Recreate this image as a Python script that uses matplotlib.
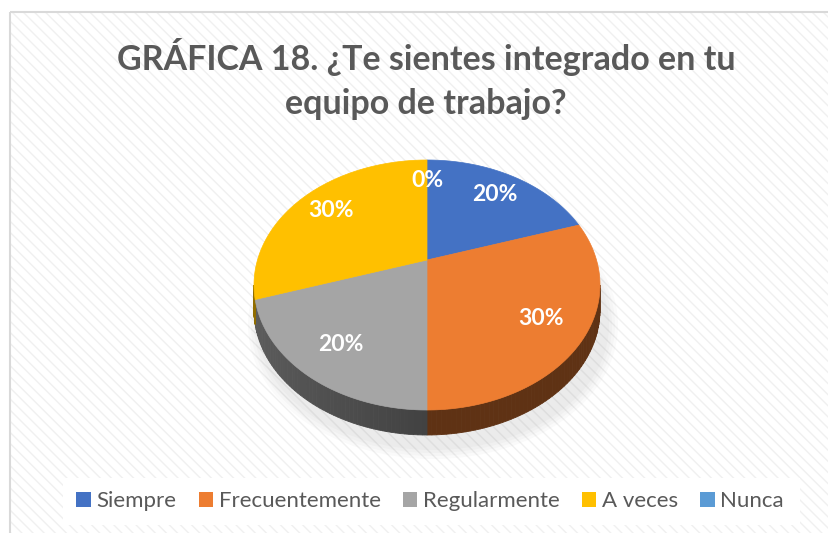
import numpy as np
import matplotlib.pyplot as plt
from matplotlib.patches import Polygon, Rectangle, Patch, Ellipse

# datos de la gráfica
categorias = ['Siempre', 'Frecuentemente', 'Regularmente', 'A veces', 'Nunca']
valores = [20, 30, 20, 30, 0]
colores = ['#4472C4', '#ED7D31', '#A5A5A5', '#FFC000', '#5B9BD5']
titulo = 'GRÁFICA 18. ¿Te sientes integrado en tu\nequipo de trabajo?'

W, H = 829, 533
fig = plt.figure(figsize=(W / 100, H / 100), dpi=100)
ax = fig.add_axes([0, 0, 1, 1])
ax.set_xlim(0, W)
ax.set_ylim(H, 0)
ax.axis('off')

# fondo con rayado diagonal y marco gris
ax.add_patch(Rectangle((0, 0), W, H, facecolor='white', edgecolor='none', zorder=0))
ax.add_patch(Rectangle((10, 12), W, H, facecolor='white', edgecolor='#f0f0f0',
                       hatch='\\\\\\', linewidth=0, zorder=1))
ax.add_patch(Rectangle((10, 12), W, H, facecolor='none', edgecolor='#d9d9d9',
                       linewidth=1.5, zorder=2))

# pastel 3D: proyección en perspectiva de un círculo
cx, cy = 427, 260      # centro proyectado
a, b, k = 169.5, 120, 0.2
prof = 25              # grosor del pastel


def proyectar(theta, r=1.0, dz=0.0):
    u = r * np.cos(theta)
    v = r * np.sin(theta)
    d = 1 + k * v
    return cx + a * u / d, cy - b * v / d + dz


total = float(sum(valores))
angulos = [np.pi / 2]
for v in valores:
    angulos.append(angulos[-1] - 2 * np.pi * v / total)

# sombra suave
for i in range(4):
    ax.add_patch(Ellipse((cx + 6, cy + 40 + prof), 2 * 176 + 6 * i, 250 + 6 * i,
                         facecolor='#808080', alpha=0.04, edgecolor='none', zorder=3))

# lado visible del pastel (frente)
lim_izq = np.pi + np.arcsin(k)
lim_der = 2 * np.pi - np.arcsin(k)
for i, col in enumerate(colores):
    t0, t1 = angulos[i + 1], angulos[i]
    for off in (0, 2 * np.pi, -2 * np.pi):
        s0, s1 = max(t0 + off, lim_izq), min(t1 + off, lim_der)
        if s1 <= s0:
            continue
        ts = np.linspace(s0, s1, 60)
        rgb = np.array(plt.matplotlib.colors.to_rgb(col))
        for j in range(len(ts) - 1):
            tm = 0.5 * (ts[j] + ts[j + 1])
            f = 0.4 + 0.17 * max(0.0, -np.cos(tm))
            p1 = proyectar(ts[j]); p2 = proyectar(ts[j + 1])
            q2 = proyectar(ts[j + 1], dz=prof); q1 = proyectar(ts[j], dz=prof)
            ax.add_patch(Polygon([p1, p2, q2, q1], closed=True, facecolor=rgb * f,
                                 edgecolor=rgb * f, linewidth=0.6, zorder=4))

# cara superior
for i, col in enumerate(colores):
    if valores[i] == 0:
        continue
    ts = np.linspace(angulos[i], angulos[i + 1], 120)
    pts = [proyectar(0, 0)] + [proyectar(t) for t in ts]
    ax.add_patch(Polygon(pts, closed=True, facecolor=col, edgecolor=col,
                         linewidth=0.5, zorder=5))

# etiquetas de porcentaje
for i, v in enumerate(valores):
    tm = 0.5 * (angulos[i] + angulos[i + 1])
    x, y = proyectar(tm, 0.76)
    ax.text(x, y, f'{v / total:.0%}', color='white', fontsize=16.5, fontweight='bold',
            family='Lato', ha='center', va='center', zorder=6)

# título
ax.text(426, 79, titulo, ha='center', va='center', fontsize=24.5, fontweight='bold',
        color='#595959', family='Lato', linespacing=1.45, zorder=6)

# leyenda
ax.add_patch(Rectangle((63, 478), 737, 47, facecolor='white', edgecolor='none', zorder=5))
handles = [Patch(facecolor=c, edgecolor='none') for c in colores]
leg = ax.legend(handles, categorias, loc='center', bbox_to_anchor=(430 / W, 1 - 501 / H),
                ncol=5, frameon=False, handlelength=0.65, handleheight=0.65,
                handletextpad=0.25, columnspacing=1.0,
                prop={'family': 'Lato', 'size': 16})
for t in leg.get_texts():
    t.set_color('#595959')
leg.set_zorder(7)

fig.savefig('out.png', dpi=100)
